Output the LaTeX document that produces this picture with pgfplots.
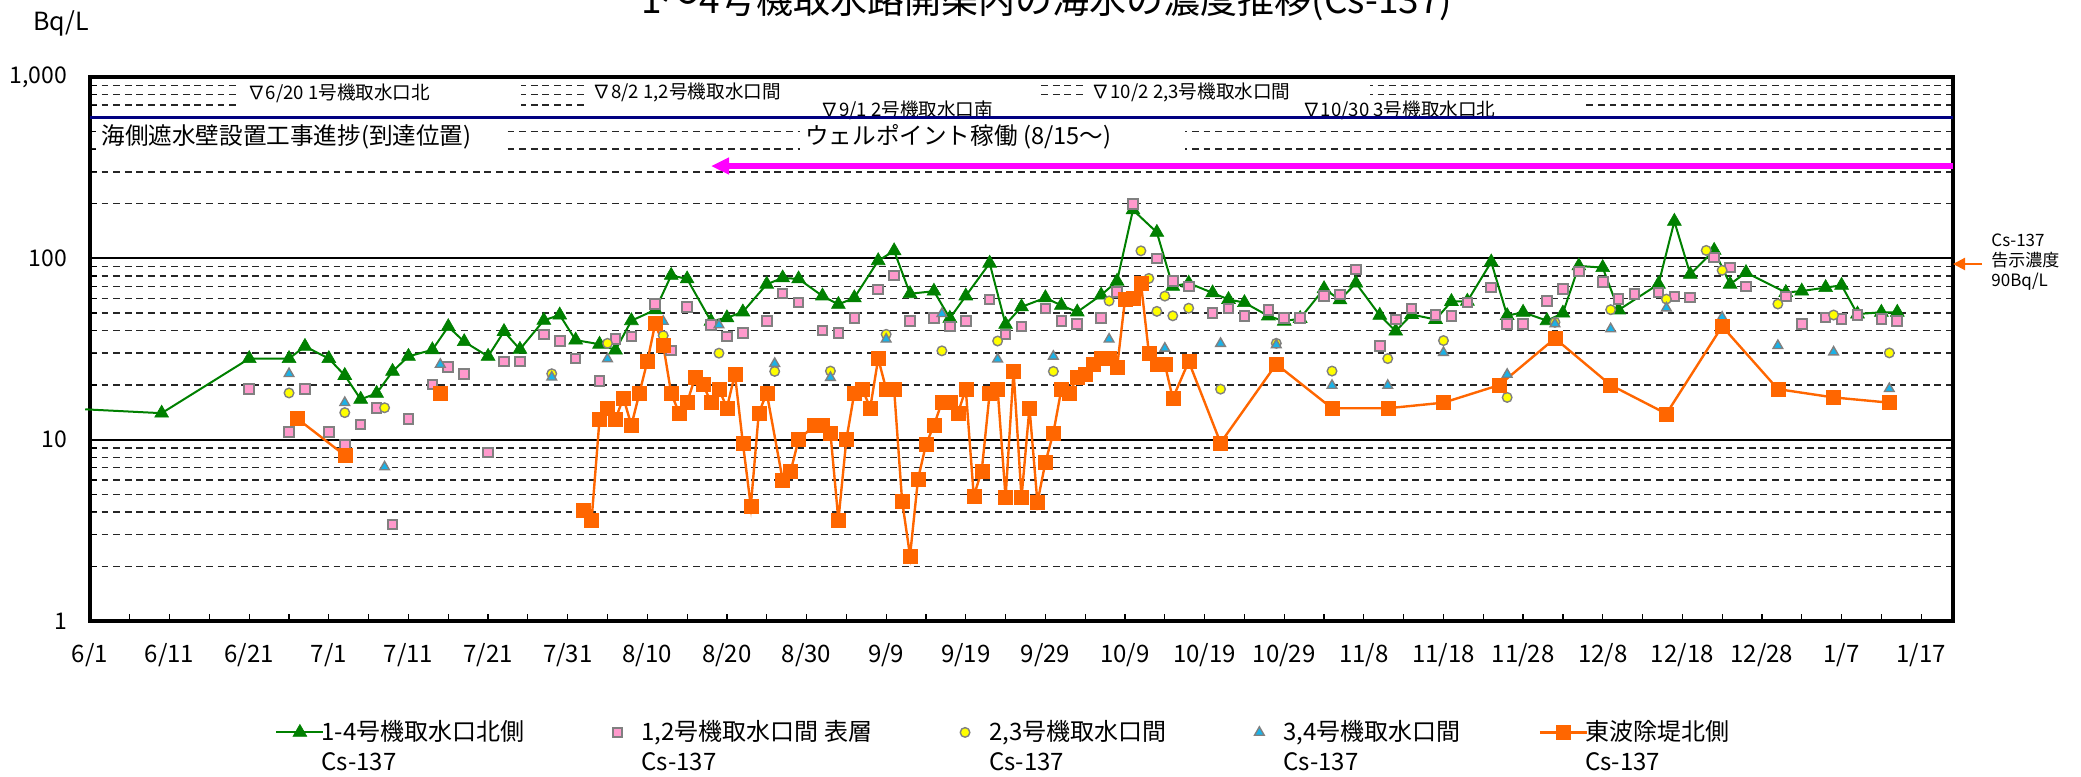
\documentclass[border=0pt]{standalone}
\usepackage{fontspec}
\setmainfont{Noto Sans CJK JP}
\usepackage{pgfplots}
\pgfplotsset{compat=1.18}
\usetikzlibrary{arrows.meta}
\definecolor{cgreen}{HTML}{008000}
\definecolor{cpink}{HTML}{FF99CC}
\definecolor{cyellow}{HTML}{FFFF00}
\definecolor{cblue}{HTML}{1AB2E8}
\definecolor{corange}{HTML}{FF6600}
\definecolor{cnavy}{HTML}{000080}
\definecolor{cmag}{HTML}{FF00FF}
\definecolor{cedge}{HTML}{808080}
\pgfplotsset{
  linleg/.style={legend image code/.code={\draw[mark repeat=2,mark phase=2,##1] plot coordinates {(0pt,19pt) (11.75pt,19pt) (23.5pt,19pt)};}},
  markleg/.style={legend image code/.code={\path[draw=none,fill=none] (0pt,19pt) rectangle (21pt,19pt); \draw[##1] plot coordinates {(7.5pt,19pt)};}},
}
\begin{document}
\begin{tikzpicture}
\begin{axis}[
  at={(0pt,0pt)}, anchor=south west,
  scale only axis, width=931.5pt, height=272pt,
  xmin=0, xmax=234, ymin=1, ymax=1000, ymode=log,
  xtick={0,10,...,230},
  xticklabels={6/1,6/11,6/21,7/1,7/11,7/21,7/31,8/10,8/20,8/30,9/9,9/19,9/29,10/9,10/19,10/29,11/8,11/18,11/28,12/8,12/18,12/28,1/7,1/17},
  minor xtick={5,15,...,235},
  ytick={1,10,100,1000},
  yticklabels={1,10,100,{1,000}},
  minor ytick={2,3,4,5,6,7,8,9,20,30,40,50,60,70,80,90,200,300,400,500,600,700,800,900},
  xtick pos=left, ytick pos=left,
  tick align=inside,
  major tick length=3.5pt, minor tick length=3.5pt,
  ymajorgrids, yminorgrids,
  major grid style={black, line width=0.9pt},
  minor grid style={black!85, line width=0.7pt, dash pattern=on 3.4pt off 2.4pt},
  axis line style={line width=1.6pt, black},
  tick style={black, line width=0.6pt},
  xticklabel style={font=\fontsize{12}{14}\selectfont, yshift=-7.5pt},
  yticklabel style={font=\fontsize{11.5}{13}\selectfont, xshift=-8pt},
  clip=false,
  unbounded coords=jump,
  legend columns=5,
  legend style={at={(0.0993,-0.178)}, anchor=north west, draw=none, fill=none, inner sep=0pt,
    font=\fontsize{12}{15}\selectfont,
    cells={anchor=base west, align=left},
    nodes={inner xsep=1.5pt, inner ysep=1pt},
    /tikz/every odd column/.append style={column sep=-3pt},
    /tikz/every even column/.append style={column sep=37.5pt}},
]
% white boxes behind annotations
\fill[white] (axis cs:18.7,975) rectangle (axis cs:54.1,572);
\fill[white] (axis cs:62.4,975) rectangle (axis cs:119.4,650);
\fill[white] (axis cs:90.8,748) rectangle (axis cs:126.5,560);
\fill[white] (axis cs:124.8,975) rectangle (axis cs:160.8,650);
\fill[white] (axis cs:151.1,748) rectangle (axis cs:187.4,560);
\fill[white] (axis cs:0.75,551) rectangle (axis cs:52.1,372);
\fill[white] (axis cs:89.2,551) rectangle (axis cs:137.5,372);
\node[anchor=west, inner sep=0pt, font=\fontsize{9.3}{10}\selectfont] at (axis cs:19.7,817) {∇6/20 1号機取水口北};
\node[anchor=west, inner sep=0pt, font=\fontsize{9.3}{10}\selectfont] at (axis cs:63.1,817) {∇8/2 1,2号機取水口間};
\node[anchor=west, inner sep=0pt, font=\fontsize{9.3}{10}\selectfont] at (axis cs:91.7,658) {∇9/1 2号機取水口南};
\node[anchor=west, inner sep=0pt, font=\fontsize{9.3}{10}\selectfont] at (axis cs:125.8,817) {∇10/2 2,3号機取水口間};
\node[anchor=west, inner sep=0pt, font=\fontsize{9.3}{10}\selectfont] at (axis cs:152.2,658) {∇10/30 3号機取水口北};
\node[anchor=west, inner sep=0pt, font=\fontsize{11.8}{13}\selectfont] at (axis cs:1.4,467) {海側遮水壁設置工事進捗(到達位置)};
\node[anchor=west, inner sep=0pt, font=\fontsize{11.8}{13}\selectfont] at (axis cs:89.8,467) {ウェルポイント稼働 (8/15～)};
\draw[cnavy, line width=1.7pt] (axis cs:0,600) -- (axis cs:234,600);
\draw[cmag, line width=2.6pt, -{Triangle[length=9pt,width=8pt]}] (axis cs:234,323) -- (axis cs:78,323);

% 1-4 north
\addplot[cgreen, line width=1pt, forget plot] coordinates {(-0.6,14.7) (9,14)};
\addplot[cgreen, line width=1pt, mark=triangle*, mark size=4pt, mark options={solid, fill=cgreen, draw=cgreen, line width=0.3pt}, linleg] coordinates {
(9,14) (20,28) (25,28) (27,32.7) (30,28) (32,22.6) (34,16.7) (36,18) (38,23.8) (40,28.8) (43,31.3) (45,42) (47,34.7) (50,28.8) (52,39.5) (54,31.5) (57,45.5) (59,48.7) (61,35.4) (64,33.6) (66,31.2) (68,45.3) (71,52) (73,80.5) (75,77) (78,45) (80,47) (82,50.6) (85,72) (87,78) (89,77) (92,62) (94,55.7) (96,60.6) (99,97) (101,110) (103,63.8) (106,65.9) (108,46.7) (110,62) (113,94) (115,43.2) (117,54) (120,60.6) (122,55) (124,50.6) (127,62.7) (129,74.8) (131,185) (134,139) (136,70) (138,73) (141,64.5) (143,59.3) (145,57) (148,48.1) (150,45) (152,46.6) (155,68) (157,59) (159,73) (162,48.5) (164,39.7) (166,49) (169,46) (171,57.8) (173,58) (176,95.5) (178,48.3) (180,50.4) (183,45.3) (185,49.9) (187,90.8) (190,88.9) (192,51.9) (197,72) (199,160) (201,81.7) (204,110.6) (206,72) (208,83.5) (213,64.8) (215,66) (218,69) (220,71) (222,49.3) (225,50.4) (227,50.4)
};
\addlegendentry{1-4号機取水口北側\\Cs-137}
% 1,2 surface
\addplot[only marks, mark=square*, mark size=2.4pt, mark options={fill=cpink, draw=cedge, line width=1pt}, markleg] coordinates {
(20,19) (25,11) (27,19) (30,11) (32,9.4) (34,12.1) (36,15) (38,3.4) (40,13) (43,20.1) (45,25.1) (47,23.1) (50,8.5) (52,27) (54,27) (57,38) (59,35.1) (61,28) (64,21) (66,36) (68,37) (71,56) (73,31) (75,54) (78,43) (80,37) (82,38.8) (85,45.1) (87,64) (89,57) (92,40) (94,38.9) (96,47) (99,67.3) (101,80.3) (103,45.1) (106,47) (108,42) (110,45.1) (113,59.3) (115,38.1) (117,42) (120,53) (122,45.1) (124,43.3) (127,47) (129,65.4) (131,200) (134,100) (136,74.8) (138,70) (141,50) (143,53) (145,48.1) (148,51.9) (150,47) (152,47) (155,61.9) (157,63.2) (159,86.6) (162,32.9) (164,46) (166,53) (169,48.7) (171,48.1) (173,57) (176,69) (178,43.5) (180,43.5) (183,58.3) (185,67.6) (187,84.5) (190,74.1) (192,59.6) (194,63.5) (197,64.8) (199,61.6) (201,60.8) (204,101) (206,88.9) (208,70) (213,61.6) (215,43.5) (218,47.3) (220,46.3) (222,48.7) (225,46.3) (227,45.3)
};
\addlegendentry{1,2号機取水口間 表層\\Cs-137}
% 2,3
\addplot[only marks, mark=*, mark size=2.4pt, mark options={fill=cyellow, draw=cedge, line width=0.7pt}, markleg] coordinates {
(25,18.1) (32,14.1) (37,15) (58,23.1) (65,34) (72,37.5) (79,30) (86,23.8) (93,23.9) (100,38.1) (107,30.9) (114,35) (121,23.8) (128,58.2) (132,110) (133,77.5) (134,51) (135,61.9) (136,48.2) (138,53.1) (142,19) (149,34) (156,23.9) (163,28) (170,35.2) (178,17.1) (184,44.4) (191,52.1) (198,59.6) (203,110.6) (205,85.9) (212,56) (219,48.7) (226,30.1)
};
\addlegendentry{2,3号機取水口間\\Cs-137}
% 3,4
\addplot[only marks, mark=triangle*, mark size=2.8pt, mark options={fill=cblue, draw=cedge, line width=0.7pt}, markleg] coordinates {
(25,23.1) (32,16) (37,7.07) (44,26) (58,22.1) (65,27.9) (72,44.9) (79,42.9) (86,26.3) (93,22) (100,35.8) (107,49.5) (114,27.8) (121,28.8) (128,35.8) (135,31.9) (142,33.9) (149,33.3) (156,19.9) (163,19.9) (170,30.2) (178,22.9) (184,43.5) (191,40.8) (198,53.2) (205,47.3) (212,33) (219,30.4) (226,19.1)
};
\addlegendentry{3,4号機取水口間\\Cs-137}
% east breakwater
\addplot[corange, line width=1.2pt, mark=square*, mark size=3.5pt, mark options={solid, fill=corange, draw=corange, line width=0.2pt}, linleg] coordinates {
(26,13.1) (32,8.2) (38,nan) (44,18.1) (53,nan) (62,4.1) (63,3.6) (64,13) (65,15) (66,13) (67,17) (68,12) (69,18) (70,27) (71,43.8) (72,33.2) (73,18) (74,14) (75,16) (76,22.1) (77,20.1) (78,16.1) (79,19) (80,15) (81,23) (82,9.6) (83,4.3) (84,14) (85,18.1) (87,6) (88,6.7) (89,10) (91,12) (92,12) (93,10.9) (94,3.6) (95,10) (96,18.1) (97,19) (98,15) (99,28) (100,19) (101,19) (102,4.6) (103,2.29) (104,6.06) (105,9.4) (106,12) (107,16.1) (108,16.1) (109,14) (110,19) (111,4.9) (112,6.7) (113,18.1) (114,19) (115,4.8) (116,24) (117,4.8) (118,15) (119,4.5) (120,7.5) (121,10.9) (122,18.9) (123,18.1) (124,22.1) (125,23) (126,26.1) (127,28) (128,28) (129,25) (130,59.3) (131,60.1) (132,73.2) (133,30) (134,26.1) (135,26.1) (136,16.9) (138,27) (142,9.6) (149,26.1) (156,14.9) (163,14.9) (170,16) (177,20) (184,36.2) (191,20) (198,13.9) (205,42.2) (212,19) (219,17.1) (226,16)
};
\addlegendentry{東波除堤北側\\Cs-137}
\end{axis}
\node[font=\fontsize{18.5}{22}\selectfont, anchor=base] at (478.5pt,303.5pt) {1～4号機取水路開渠内の海水の濃度推移(Cs-137)};
\node[font=\fontsize{12.5}{14}\selectfont] at (-14.5pt,299pt) {Bq/L};
\node[anchor=west, align=left, inner sep=0pt, font=\fontsize{8.5}{10}\selectfont] at (950.5pt,179.5pt) {Cs-137\\告示濃度\\90Bq/L};
\draw[corange, line width=1.1pt, -{Triangle[length=6pt,width=6pt]}] (946pt,178.5pt) -- (931.5pt,178.5pt);
\pgfresetboundingbox
\path (-45pt,-77.5pt) rectangle (995.5pt,310.5pt);
\end{tikzpicture}
\end{document}
